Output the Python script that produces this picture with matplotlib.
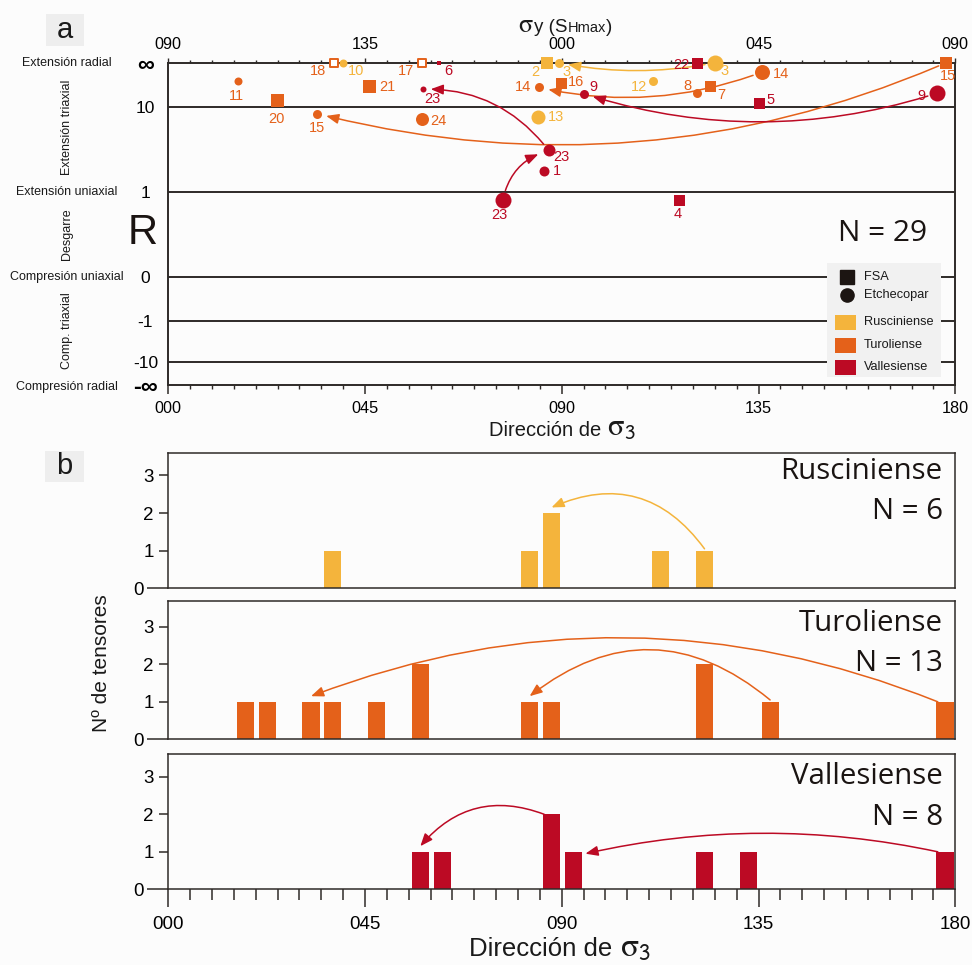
import numpy as np
import matplotlib
matplotlib.use("Agg")
import matplotlib.pyplot as plt
from matplotlib.patches import FancyArrowPatch, Rectangle
from matplotlib.ticker import MultipleLocator, FixedLocator, FixedFormatter
from matplotlib.offsetbox import TextArea, HPacker, AnnotationBbox
import matplotlib.transforms as mtransforms

plt.rcParams['font.family'] = ['Liberation Sans', 'DejaVu Sans']

INF = 1e12  # stands for R = infinity on the stress-ratio axis

# ---------------------------------------------------------------- data
period_names = ['Rusciniense', 'Turoliense', 'Vallesiense']
period_colors = ['#F4B43C', '#E4611A', '#BC0A24']

# stress tensors: period, method, sigma3 trend (deg), stress ratio R, site id
site_period = ['Rusciniense'] * 6 + ['Turoliense'] * 13 + ['Vallesiense'] * 10
site_method = ['E', 'F', 'E', 'E', 'E', 'E',
               'F', 'F', 'E', 'F', 'F', 'E', 'E', 'F', 'E', 'E', 'F', 'E', 'F',
               'F', 'E', 'F', 'E', 'F', 'E', 'E', 'E', 'E', 'F']
site_hollow = [False] * 6 + [True, True] + [False] * 21
sigma3_dir = [39.9, 86.7, 89.3, 125.0, 110.9, 84.6,
              37.9, 58.0, 15.9, 24.9, 45.9, 34.0, 58.0, 89.9, 84.8, 121.0, 123.9, 135.8, 177.9,
              62.0, 58.2, 121.0, 95.0, 135.0, 175.9, 87.0, 85.9, 76.5, 116.8]
r_ratio = [INF, INF, INF, INF, 24, 7.5,
           INF, INF, 24, 11.9, 19, 8.3, 7.2, 22, 17.8, 14.6, 19, 47, INF,
           INF, 16.7, INF, 14.2, 11, 14.5, 3.06, 1.73, 0.9, 0.9]
site_id = ['10', '2', '3', '3', '12', '13',
           '18', '17', '11', '20', '21', '15', '24', '16', '14', '8', '7', '14', '15',
           '6', '23', '22', '9', '5', '9', '23', '1', '23', '4']

# tensor-to-tensor evolution arrows (from, to, curvature)
evolution_links = [(3, 2, -0.10), (17, 14, -0.15), (18, 11, -0.17),
                   (24, 22, -0.16), (25, 20, 0.25), (27, 25, -0.30)]

# histograms of sigma3 trend (5 degree classes)
hist_bins = {
    'Rusciniense': [35, 80, 85, 110, 120],
    'Turoliense': [15, 20, 30, 35, 45, 55, 80, 85, 120, 135, 175],
    'Vallesiense': [55, 60, 85, 90, 120, 130, 175],
}
hist_counts = {
    'Rusciniense': [1, 1, 2, 1, 1],
    'Turoliense': [1, 1, 1, 1, 1, 2, 1, 1, 2, 1, 1],
    'Vallesiense': [1, 1, 2, 1, 1, 1, 1],
}
hist_total = {'Rusciniense': 6, 'Turoliense': 13, 'Vallesiense': 8}
# class-to-class arrows: from class, to class, curvature, start anchor, end anchor
hist_links = {
    'Rusciniense': [(120, 85, 0.40, 'top', 'top')],
    'Turoliense': [(135, 80, 0.40, 'top', 'top'), (175, 30, 0.195, 'corner', 'top')],
    'Vallesiense': [(85, 55, 0.35, 'corner', 'top'), (175, 90, 0.11, 'corner', 'side')],
}

dir_ticks = [0, 45, 90, 135, 180]
dir_labels = ['000', '045', '090', '135', '180']
shmax_labels = ['090', '135', '000', '045', '090']
r_ticks = [INF, 10, 1, 0, -1, -10, -INF]
r_labels = ['∞', '10', '1', '0', '-1', '-10', '-∞']

# ---------------------------------------------------------------- styling
marker_px = [8, 12, 9, 16, 9, 14,
             10, 10, 8, 13, 13, 9, 13, 11, 9, 9, 11, 15, 12,
             5, 6, 11, 9, 11, 16, 12, 10, 16, 11]
label_offset_px = [(13.5, 8), (-12, 9), (8, 9), (10, 8), (-14, 6), (18, 0),
                   (-16, 8), (-16, 8), (-1, 15), (-1, 19), (18.5, 1), (0, 14), (17, 2),
                   (15, -1), (-16, 0), (-10, -7), (11, 9), (19, 2), (2, 13),
                   (9, 8), (10, 10), (-16, 2), (10, -7), (12, -3), (-16, 3),
                   (13, 7), (13, 0), (-3, 15), (-1, 14)]
PX2PT = 0.72
INK = '#2e2a28'
TXT = '#1a1a1a'
BG = '#fcfcfc'
MYRIAD = ['Open Sans', 'DejaVu Sans']
color_of = dict(zip(period_names, period_colors))
SIGMA = r'$\mathrm{\sigma}$'
SIGMA3 = r'$\mathrm{\sigma}_{\mathsf{3}}$'

# ---------------------------------------------------------------- R scale
T_KNOTS = [-3, -2, -1, 0, 1, 2, 3]
P_KNOTS = [0.0, 22.4, 63.7, 107.7, 193.0, 278.0, 322.0]


def _r_to_t(r):
    r = np.asarray(r, dtype=float)
    a = np.abs(r)
    with np.errstate(divide='ignore', invalid='ignore'):
        t = np.where(a <= 1, a,
                     np.where(a <= 10, 1 + np.log10(np.maximum(a, 1)),
                              3 - 10 / np.maximum(a, 10)))
    return np.sign(r) * t


def _t_to_r(t):
    t = np.asarray(t, dtype=float)
    a = np.clip(np.abs(t), 0, 3 - 1e-12)
    with np.errstate(divide='ignore', invalid='ignore', over='ignore'):
        r = np.where(a <= 1, a, np.where(a <= 2, 10 ** (a - 1), 10 / (3 - a)))
    return np.sign(t) * r


def r_forward(r):
    return np.interp(_r_to_t(r), T_KNOTS, P_KNOTS)


def r_inverse(p):
    return _t_to_r(np.interp(p, P_KNOTS, T_KNOTS))


def r_frac(r):
    return float((r_forward(r) - P_KNOTS[0]) / (P_KNOTS[-1] - P_KNOTS[0]))


def packed_label(ax, parts, xy, align=(0.5, 0.5)):
    boxes = [TextArea(s, textprops=p) for s, p in parts]
    pack = HPacker(children=boxes, align='baseline', pad=0, sep=0)
    ab = AnnotationBbox(pack, xy, xycoords='figure fraction', frameon=False,
                        box_alignment=align, pad=0, annotation_clip=False)
    ax.add_artist(ab)


# ---------------------------------------------------------------- figure
fig = plt.figure(figsize=(9.72, 9.65), dpi=100, facecolor=BG)
LEFT, WIDTH = 0.1731, 0.8097

# ======================= panel a
ax = fig.add_axes([LEFT, 0.6013, WIDTH, 0.3337], facecolor=BG)
ax.set_yscale('function', functions=(r_forward, r_inverse))
ax.set_xlim(0, 180)
ax.set_ylim(-INF, INF)

for sp in ax.spines.values():
    sp.set_color(INK)
    sp.set_linewidth(1.4)
for v in [10, 1, 0, -1, -10]:
    ax.axhline(v, color=INK, lw=1.4, zorder=1)

ax.set_xticks(dir_ticks, dir_labels)
ax.xaxis.set_minor_locator(MultipleLocator(5))
ax.tick_params(axis='x', which='major', direction='out', length=6.3, width=1.1,
               color=INK, labelsize=11.7, pad=5.5)
ax.tick_params(axis='x', which='minor', direction='out', length=3.2, width=1.0, color=INK)
ax.set_yticks(r_ticks, r_labels, ha='center')
ax.yaxis.set_minor_locator(FixedLocator([]))
ax.tick_params(axis='y', length=0, labelsize=12.5, pad=16.5)
for lbl in ax.get_yticklabels():
    if '∞' in lbl.get_text():
        lbl.set_fontsize(17)
        lbl.set_fontweight('bold')

top = ax.secondary_xaxis('top')
top.set_xticks(dir_ticks, shmax_labels)
top.xaxis.set_minor_locator(MultipleLocator(5))
top.tick_params(axis='x', which='major', direction='out', length=3.9, width=1.0,
                color=INK, labelsize=11.7, pad=3.5)
top.tick_params(axis='x', which='minor', direction='out', length=2.2, width=1.0, color=INK)
top.spines['top'].set_visible(False)

# regime names along the R axis
blend = mtransforms.blended_transform_factory(ax.transAxes, ax.transAxes)
regimes = [('Extensión radial', INF, INF, 0),
           ('Extensión triaxial', INF, 1, 90),
           ('Extensión uniaxial', 1, 1, 0),
           ('Desgarre', 1, 0, 90),
           ('Compresión uniaxial', 0, 0, 0),
           ('Comp. triaxial', 0, -INF, 90),
           ('Compresión radial', -INF, -INF, 0)]
for name, ra, rb, rot in regimes:
    yf = 0.5 * (r_frac(ra) + r_frac(rb))
    if name == 'Compresión radial':
        yf -= 0.006
    ax.text(-0.1288, yf, name, transform=blend, rotation=rot, ha='center',
            va='center', fontsize=9, color=TXT, clip_on=False)

ax.text(-0.0322, 0.471, 'R', transform=ax.transAxes, ha='center', va='center',
        fontsize=30, color='#1a1412')
ax.text(0.907, 0.471, 'N = 29', transform=ax.transAxes, ha='center', va='center',
        fontsize=21.5, family=MYRIAD, color='#1a1412')

# tensors
for i in range(len(sigma3_dir)):
    c = color_of[site_period[i]]
    mk = 's' if site_method[i] == 'F' else 'o'
    s = (marker_px[i] * PX2PT) ** 2
    if site_hollow[i]:
        ax.scatter([sigma3_dir[i]], [r_ratio[i]], s=s * 0.8, marker=mk, facecolors='white',
                   edgecolors=c, linewidths=1.4, zorder=5, clip_on=False)
    else:
        ax.scatter([sigma3_dir[i]], [r_ratio[i]], s=s, marker=mk, color=c,
                   linewidths=0, zorder=5, clip_on=False)
    dx, dy = label_offset_px[i]
    ax.annotate(site_id[i], (sigma3_dir[i], r_ratio[i]),
                xytext=(dx * PX2PT, -dy * PX2PT), textcoords='offset points',
                ha='center', va='center', fontsize=10.5, color=c, zorder=6,
                annotation_clip=False)

for a, b, rad in evolution_links:
    c = color_of[site_period[a]]
    arr = FancyArrowPatch((sigma3_dir[a], r_ratio[a]), (sigma3_dir[b], r_ratio[b]),
                          connectionstyle=f'arc3,rad={rad}',
                          arrowstyle='-|>,head_length=0.75,head_width=0.3',
                          mutation_scale=10, lw=1.1, color=c,
                          shrinkA=(marker_px[a] / 2 + 2) * PX2PT,
                          shrinkB=(marker_px[b] / 2 + 5) * PX2PT,
                          zorder=4, clip_on=False)
    ax.add_patch(arr)

# legend
ax.add_patch(Rectangle((0.837, 0.023), 0.145, 0.356, transform=ax.transAxes,
                       facecolor='#f1f1f1', edgecolor='none', zorder=7))
for yk, mk, name in [(0.3345, 's', 'FSA'), (0.2786, 'o', 'Etchecopar')]:
    ax.plot([0.8621], [yk], marker=mk, ms=9.5, color='#1c1512', ls='none',
            transform=ax.transAxes, zorder=8, clip_on=False)
    ax.text(0.8835, yk, name, transform=ax.transAxes, ha='left', va='center',
            fontsize=9.2, color=TXT, zorder=8)
for yk, name in zip([0.1938, 0.1233, 0.0540], period_names):
    ax.add_patch(Rectangle((0.8474, yk - 0.0233), 0.0263, 0.0466, transform=ax.transAxes,
                           facecolor=color_of[name], edgecolor='none', zorder=8))
    ax.text(0.8835, yk, name, transform=ax.transAxes, ha='left', va='center',
            fontsize=9.2, color=TXT, zorder=8)

# axis titles of panel a
packed_label(ax, [(SIGMA, dict(fontsize=19, math_fontfamily='stix', color=TXT)),
                  ('y (S', dict(fontsize=13.5, color=TXT)),
                  ('Hmax', dict(fontsize=10.5, color=TXT)),
                  (')', dict(fontsize=13.5, color=TXT))],
             (565 / 972, 1 - 25 / 965))
packed_label(ax, [('Dirección de ', dict(fontsize=14.5, color=TXT)),
                  (SIGMA3, dict(fontsize=22, math_fontfamily='stix', color=TXT))],
             (562 / 972, 1 - 428 / 965))

# ======================= panel b
hist_geom = {'Rusciniense': (0.39036, 0.13990, 3.59),
             'Turoliense': (0.23389, 0.14332, 3.69),
             'Vallesiense': (0.07845, 0.14021, 3.61)}
title_pos = {'Rusciniense': (0.864, 0.567),
             'Turoliense': (0.834, 0.550),
             'Vallesiense': (0.832, 0.532)}
BAR_OFF, BAR_W = 0.7, 3.9

for name in period_names:
    bottom, height, ytop = hist_geom[name]
    hx = fig.add_axes([LEFT, bottom, WIDTH, height], facecolor=BG)
    c = color_of[name]
    lefts = np.array(hist_bins[name], dtype=float) + BAR_OFF
    counts = np.array(hist_counts[name], dtype=float)
    hx.bar(lefts, counts, width=BAR_W, align='edge', color=c, edgecolor='none', zorder=2)
    hx.set_xlim(0, 180)
    hx.set_ylim(0, ytop)
    for sp in hx.spines.values():
        sp.set_color(INK)
        sp.set_linewidth(1.1)
    hx.yaxis.set_major_locator(FixedLocator([1, 2, 3]))
    hx.yaxis.set_minor_locator(FixedLocator([0]))
    hx.yaxis.set_minor_formatter(FixedFormatter(['0']))
    hx.tick_params(axis='y', which='major', direction='out', length=6.7, width=1.1,
                   color=INK, labelsize=13.5, pad=3.9)
    hx.tick_params(axis='y', which='minor', direction='out', length=15.3, width=1.1,
                   color=INK, labelsize=13.5, pad=2.6)
    if name == 'Vallesiense':
        hx.set_xticks(dir_ticks, dir_labels)
        hx.xaxis.set_minor_locator(MultipleLocator(5))
        hx.tick_params(axis='x', which='major', direction='out', length=13, width=1.1,
                       color=INK, labelsize=13.5, pad=6.5)
        hx.tick_params(axis='x', which='minor', direction='out', length=8, width=1.1,
                       color=INK)
    else:
        hx.set_xticks([])
    ty, ny = title_pos[name]
    hx.text(0.984, ty, name, transform=hx.transAxes, ha='right', va='center',
            fontsize=21.2, family=MYRIAD, color='#1a1412')
    hx.text(0.984, ny, f'N = {hist_total[name]}', transform=hx.transAxes, ha='right',
            va='center', fontsize=21.2, family=MYRIAD, color='#1a1412')

    bins = list(hist_bins[name])
    for b0, b1, rad, anc0, anc1 in hist_links[name]:
        def anchor(b, kind, is_end):
            k = bins.index(b)
            left = b + BAR_OFF
            cnt = hist_counts[name][k]
            if kind == 'corner':
                return (left + 0.3, cnt)
            if kind == 'side':
                return (left + BAR_W + 0.8, cnt - 0.05)
            return (left + BAR_W / 2, cnt + (0.15 if is_end else 0.05))
        arr = FancyArrowPatch(anchor(b0, anc0, False), anchor(b1, anc1, True),
                              connectionstyle=f'arc3,rad={rad}',
                              arrowstyle='-|>,head_length=0.75,head_width=0.3',
                              mutation_scale=10, lw=1.1, color=c,
                              shrinkA=0, shrinkB=0, zorder=3)
        hx.add_patch(arr)
    last = hx

fig.text(101.7 / 972, 1 - 663 / 965, 'Nº de tensores', rotation=90, ha='center',
         va='center', fontsize=15, color=TXT)
packed_label(last, [('Dirección de ', dict(fontsize=18.5, color=TXT)),
                    (SIGMA3, dict(fontsize=24, math_fontfamily='stix', color=TXT))],
             (560 / 972, 1 - 948 / 965))

# panel letters
for letter, (x0, y0) in [('a', (45.7, 14.3)), ('b', (45.3, 450.7))]:
    fig.patches.append(Rectangle((x0 / 972, 1 - (y0 + 31.5) / 965), 38.5 / 972, 31.5 / 965,
                                 transform=fig.transFigure, facecolor='#eeeeee',
                                 edgecolor='none', zorder=0))
    fig.text((x0 + 19.2) / 972, 1 - (y0 + 15.5) / 965, letter, ha='center', va='center',
             fontsize=21, color=TXT)

fig.savefig('out.png', dpi=100, facecolor=BG)
